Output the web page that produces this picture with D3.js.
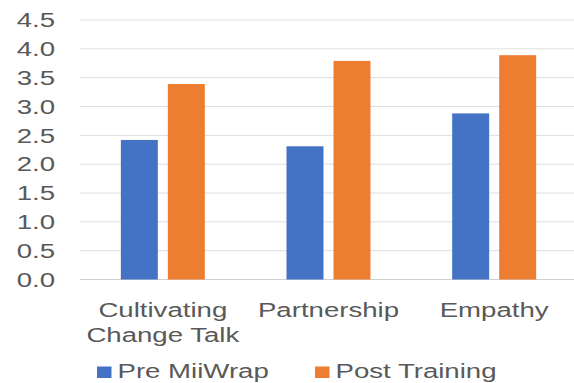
<!DOCTYPE html>
<html><head><meta charset="utf-8">
<script src="https://cdn.jsdelivr.net/npm/d3@7"></script>
<style>
html,body{margin:0;padding:0;background:#fff;}
svg{display:block;}
text{font-family:"Liberation Sans",Arial,sans-serif;fill:#595959;}
</style></head>
<body>
<svg id="chart" width="574" height="383"></svg>
<script>
const categories = [["Cultivating", "Change Talk"], ["Partnership"], ["Empathy"]];
const seriesNames = ["Pre MiiWrap", "Post Training"];
const preValues = [2.42, 2.31, 2.88];
const postValues = [3.39, 3.79, 3.89];
const yTicks = [0, 0.5, 1.0, 1.5, 2.0, 2.5, 3.0, 3.5, 4.0, 4.5];
const colors = ["#4472C4", "#ED7D31"];

(function () {
const svg = d3.select("#chart");
const W = 574;
const mLeft = 80, mRight = 577, mTop = 20, mBottom = 279.5;
const sx = 1.38; // horizontal text stretch seen in the reference
const fs = 20;

const catIdx = categories.map((c, i) => i);
const x0 = d3.scaleBand().domain(catIdx).range([mLeft, mRight]).paddingInner(0).paddingOuter(0);
const x1 = d3.scaleBand().domain(seriesNames).range([0, x0.bandwidth()]).paddingInner(0.213).paddingOuter(0.869);
const y = d3.scaleLinear().domain([0, 4.5]).range([mBottom, mTop]);

// gridlines
svg.append("g").selectAll("line").data(yTicks).join("line")
  .attr("x1", mLeft).attr("x2", W)
  .attr("y1", d => y(d)).attr("y2", d => y(d))
  .attr("stroke", d => d === 0 ? "#d0d0d0" : "#dedede").attr("stroke-width", 1);

// y tick labels
svg.append("g").selectAll("text").data(yTicks).join("text")
  .attr("transform", d => `translate(55,${y(d) + 7.3}) scale(${sx},1)`)
  .attr("text-anchor", "end").attr("font-size", fs)
  .text(d => d.toFixed(1));

// bars
const data = catIdx.map(i => ({i, vals: [preValues[i], postValues[i]]}));
const groups = svg.append("g").selectAll("g").data(data).join("g")
  .attr("transform", d => `translate(${x0(d.i)},0)`);
groups.selectAll("rect").data(d => d.vals.map((v, k) => ({v, k}))).join("rect")
  .attr("x", d => x1(seriesNames[d.k]))
  .attr("width", x1.bandwidth())
  .attr("y", d => y(d.v))
  .attr("height", d => y(0) - y(d.v))
  .attr("fill", d => colors[d.k]);

// category labels
categories.forEach((lines, i) => {
  const cx = x0(i) + x0.bandwidth() / 2;
  lines.forEach((t, j) => {
    svg.append("text")
      .attr("transform", `translate(${cx},${316.5 + j * 25}) scale(${sx},1)`)
      .attr("text-anchor", "middle").attr("font-size", fs)
      .text(t);
  });
});

// legend
const legX = [97, 315];
seriesNames.forEach((s, k) => {
  svg.append("rect").attr("x", legX[k]).attr("y", 366.5).attr("width", 14.5).attr("height", 11.5).attr("fill", colors[k]);
  svg.append("text")
    .attr("transform", `translate(${legX[k] + 20.5},378) scale(${sx},1)`)
    .attr("font-size", fs).text(s);
});
})();
</script>
</body></html>
